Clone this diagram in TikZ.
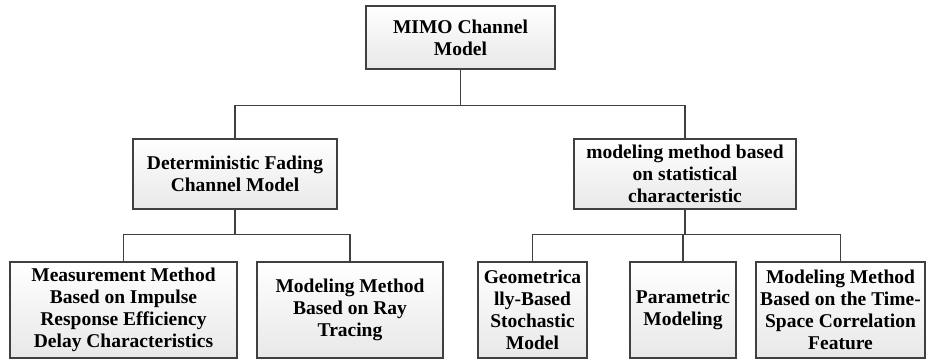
\documentclass[tikz,border=0pt]{standalone}
\usepackage{fontspec}
\setmainfont{Liberation Serif}
\usepackage{tikz}
\usetikzlibrary{positioning}
\usetikzlibrary{shadows}
\definecolor{boxline}{HTML}{404040}
\definecolor{boxfill}{HTML}{E8E8E8}
\tikzset{
  box/.style={draw=boxline, line width=1.3pt, top color=white, bottom color=boxfill,
    drop shadow={shadow xshift=1pt, shadow yshift=-1pt, fill=gray!70, opacity=0.6},
    align=center, inner sep=1pt,
    font=\fontsize{19.5}{22}\selectfont\bfseries},
  link/.style={draw=boxline, line width=1.3pt}
}

\begin{document}
\begin{tikzpicture}[x=1pt, y=-1pt]
      \useasboundingbox (0, 0) rectangle (926, 360);

      \node [box, minimum width=189pt, minimum height=63pt] (mimo) at (460.5, 37.5) {MIMO Channel\\Model};

      \node [box, minimum width=204pt, minimum height=70pt] (det) at (235, 174) {Deterministic Fading\\Channel Model};
      \node [box, minimum width=222pt, minimum height=70pt] (stat) at (685, 174) {modeling method based\\on statistical\\characteristic};

      \node [box, minimum width=227pt, minimum height=96pt] (meas) at (123.5, 310) {Measurement Method\\Based on Impulse\\Response Efficiency\\Delay Characteristics};
      \node [box, minimum width=186pt, minimum height=96pt] (ray) at (350, 310) {Modeling Method\\Based on Ray\\Tracing};
      \node [box, minimum width=109pt, minimum height=96pt] (geo) at (532.5, 310) {Geometrica\\lly-Based\\Stochastic\\Model};
      \node [box, minimum width=106pt, minimum height=96pt] (para) at (683, 310) {Parametric\\Modeling};
      \node [box, minimum width=169pt, minimum height=96pt] (corr) at (840.5, 310) {Modeling Method\\Based on the Time-\\Space Correlation\\Feature};

      \coordinate (mimojoin) at ([yshift=-36pt]mimo.south);
      \coordinate (detjoin) at ([yshift=-25pt]det.south);
      \coordinate (statjoin) at ([yshift=-25pt]stat.south);

      \draw [link] (mimo.south) -- (mimojoin);
      \draw [link] (mimojoin) -| (det.north);
      \draw [link] (mimojoin) -| (stat.north);

      \draw [link] (det.south) -- (detjoin);
      \draw [link] (detjoin) -| (meas.north);
      \draw [link] (detjoin) -| (ray.north);

      \draw [link] (stat.south) -- (statjoin);
      \draw [link] (statjoin) -| (geo.north);
      \draw [link] (statjoin) -| (para.north);
      \draw [link] (statjoin) -| (corr.north);
    \end{tikzpicture}
\end{document}
